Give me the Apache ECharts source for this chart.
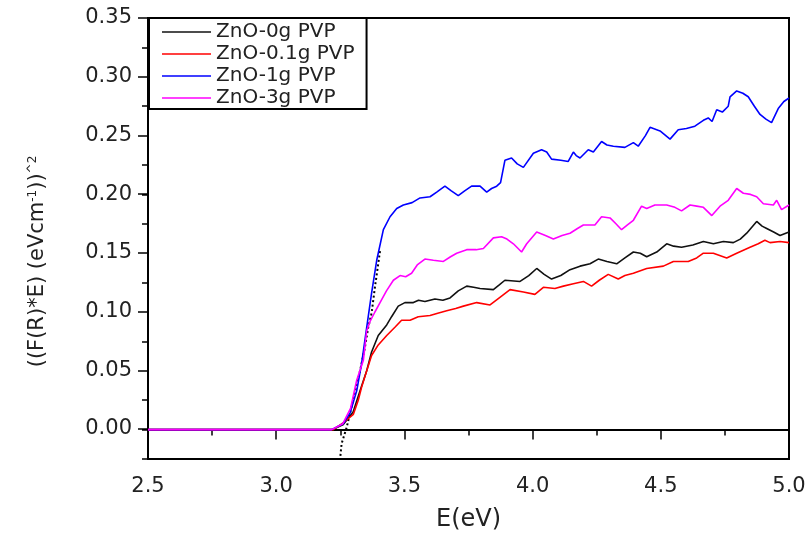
<!DOCTYPE html>
<html>
<head>
<meta charset="utf-8">
<script src="https://cdn.jsdelivr.net/npm/echarts@6/dist/echarts.min.js"></script>
<style>html,body{margin:0;padding:0;background:#fff;}#c{width:805px;height:533px;}</style>
</head>
<body>
<div id="c"></div>
<script>
var seriesNames = ['ZnO-0g PVP', 'ZnO-0.1g PVP', 'ZnO-1g PVP', 'ZnO-3g PVP'];
var xTicks = ['2.5', '3.0', '3.5', '4.0', '4.5', '5.0'];
var yTicks = ['0.00', '0.05', '0.10', '0.15', '0.20', '0.25', '0.30', '0.35'];

var blackE = [2.5,3.22,3.26,3.30,3.327,3.353,3.372,3.398,3.431,3.450,3.476,3.502,3.535,3.555,3.580,3.619,3.650,3.678,3.710,3.743,3.770,3.795,3.847,3.870,3.892,3.951,3.985,4.016,4.045,4.074,4.110,4.146,4.185,4.224,4.256,4.290,4.328,4.360,4.393,4.420,4.445,4.484,4.523,4.550,4.581,4.625,4.666,4.705,4.744,4.783,4.810,4.835,4.874,4.895,4.913,4.940,4.965,5.0];
var blackV = [0,0,0.004,0.015,0.033,0.050,0.066,0.080,0.089,0.096,0.105,0.108,0.108,0.110,0.109,0.111,0.110,0.112,0.118,0.122,0.121,0.120,0.119,0.123,0.127,0.126,0.131,0.137,0.132,0.128,0.131,0.136,0.139,0.141,0.145,0.143,0.141,0.146,0.151,0.150,0.147,0.151,0.158,0.156,0.155,0.157,0.160,0.158,0.160,0.159,0.162,0.167,0.177,0.173,0.171,0.168,0.165,0.168];

var blackDotE = [3.247,3.255,3.275,3.288,3.307,3.327,3.346,3.359,3.372,3.385,3.405];
var blackDotV = [-0.03,-0.012,0.002,0.014,0.031,0.050,0.070,0.087,0.099,0.121,0.152];

var redE = [2.5,3.223,3.262,3.301,3.320,3.333,3.353,3.372,3.398,3.431,3.463,3.489,3.522,3.554,3.600,3.630,3.665,3.700,3.730,3.782,3.834,3.870,3.912,3.964,4.009,4.042,4.087,4.120,4.159,4.198,4.230,4.260,4.295,4.334,4.360,4.393,4.445,4.510,4.549,4.607,4.640,4.666,4.705,4.757,4.796,4.848,4.880,4.906,4.926,4.965,5.0];
var redV = [0,0,0.006,0.013,0.025,0.036,0.050,0.063,0.072,0.080,0.087,0.093,0.093,0.096,0.097,0.099,0.101,0.103,0.105,0.108,0.106,0.112,0.119,0.117,0.115,0.121,0.120,0.122,0.124,0.126,0.122,0.127,0.132,0.128,0.131,0.133,0.137,0.139,0.143,0.143,0.146,0.150,0.150,0.146,0.150,0.155,0.158,0.161,0.159,0.160,0.159];

var blueE = [2.5,3.216,3.261,3.288,3.314,3.333,3.353,3.372,3.392,3.418,3.444,3.470,3.496,3.530,3.561,3.600,3.626,3.658,3.683,3.710,3.735,3.762,3.795,3.821,3.840,3.860,3.875,3.892,3.918,3.940,3.964,4.003,4.035,4.055,4.074,4.110,4.139,4.159,4.170,4.185,4.217,4.237,4.269,4.290,4.315,4.360,4.393,4.412,4.440,4.458,4.497,4.536,4.568,4.600,4.633,4.666,4.685,4.700,4.718,4.740,4.763,4.770,4.796,4.820,4.841,4.865,4.887,4.910,4.932,4.958,4.980,5.0];
var blueV = [0,0,0.005,0.014,0.033,0.056,0.087,0.116,0.144,0.170,0.181,0.188,0.191,0.193,0.197,0.198,0.202,0.207,0.203,0.199,0.203,0.207,0.207,0.202,0.205,0.207,0.210,0.229,0.231,0.226,0.223,0.235,0.238,0.236,0.230,0.229,0.228,0.236,0.233,0.231,0.238,0.236,0.245,0.242,0.241,0.240,0.244,0.241,0.250,0.257,0.254,0.247,0.255,0.256,0.258,0.263,0.265,0.262,0.272,0.270,0.275,0.283,0.288,0.286,0.283,0.275,0.268,0.264,0.261,0.273,0.279,0.282];

var magE = [2.5,3.216,3.26,3.29,3.314,3.340,3.353,3.366,3.385,3.405,3.430,3.457,3.483,3.505,3.528,3.55,3.580,3.613,3.652,3.680,3.704,3.743,3.780,3.808,3.847,3.879,3.900,3.925,3.957,3.977,4.016,4.050,4.081,4.115,4.146,4.175,4.198,4.243,4.269,4.302,4.325,4.347,4.370,4.393,4.425,4.445,4.477,4.523,4.555,4.581,4.614,4.640,4.666,4.699,4.731,4.763,4.796,4.822,4.850,4.874,4.900,4.939,4.952,4.971,5.0];
var magV = [0,0,0.005,0.018,0.042,0.059,0.084,0.092,0.100,0.108,0.118,0.127,0.131,0.130,0.133,0.140,0.145,0.144,0.143,0.147,0.150,0.153,0.153,0.154,0.163,0.164,0.162,0.158,0.151,0.158,0.168,0.165,0.162,0.165,0.167,0.171,0.174,0.174,0.181,0.180,0.175,0.170,0.174,0.178,0.190,0.188,0.191,0.191,0.189,0.186,0.191,0.190,0.189,0.182,0.190,0.195,0.205,0.201,0.200,0.198,0.192,0.191,0.195,0.187,0.191];

function zip(a, b) { return a.map(function (v, i) { return [v, b[i]]; }); }

var FONT = 'DejaVu Sans';
var TXT = '#222';
var chart = echarts.init(document.getElementById('c'), null, {renderer: 'canvas'});

function lineSeries(name, e, v, color) {
  return {
    name: name, type: 'line', xAxisIndex: 0, yAxisIndex: 0,
    data: zip(e, v), symbol: 'none', showSymbol: false, clip: true,
    lineStyle: {color: color, width: 1.6}, itemStyle: {color: color}
  };
}

chart.setOption({
  animation: false,
  backgroundColor: '#fff',
  grid: [
    {left: 148, right: 16, top: 18, bottom: 74, containLabel: false, outerBoundsMode: 'none',
     show: true, borderColor: '#000', borderWidth: 2, backgroundColor: 'transparent'},
    {left: 148, right: 16, top: 18, bottom: 104, containLabel: false, outerBoundsMode: 'none', show: false}
  ],
  xAxis: [
    {
      gridIndex: 0, type: 'value', min: 2.5, max: 5.0, interval: 0.5,
      axisLine: {show: true, lineStyle: {color: '#000', width: 2}},
      axisTick: {show: true, inside: false, length: 10, lineStyle: {color: '#000', width: 1.5}},
      minorTick: {show: true, splitNumber: 2, length: 6, lineStyle: {color: '#000', width: 1.5}},
      splitLine: {show: false},
      axisLabel: {margin: 17, fontFamily: FONT, fontSize: 21, color: TXT,
        formatter: function (v) { var s = v.toFixed(1); return xTicks.indexOf(s) >= 0 ? s : ''; }},
      name: 'E(eV)', nameLocation: 'middle', nameGap: 49,
      nameTextStyle: {fontFamily: FONT, fontSize: 24, color: TXT}
    },
    {gridIndex: 1, type: 'value', min: 2.5, max: 5.0, show: false}
  ],
  yAxis: [
    {
      gridIndex: 0, type: 'value', min: -0.025, max: 0.35, interval: 0.025,
      axisLine: {show: true, lineStyle: {color: '#000', width: 2}},
      axisTick: {show: true, inside: false, length: 6, lineStyle: {color: '#000', width: 1.5}},
      splitLine: {show: false},
      axisLabel: {show: false},
      name: '{m|((F(R)*E) (eVcm}{s|-1}{m|))}{s|^2}',
      nameLocation: 'middle', nameGap: 100, nameRotate: 90,
      nameTextStyle: {
        padding: [0, 46, 0, 0],
        rich: {
          m: {fontFamily: FONT, fontSize: 21, color: TXT},
          s: {fontFamily: FONT, fontSize: 12, color: TXT, verticalAlign: 'top', padding: [0, 0, 9, 0]}
        }
      }
    },
    {
      gridIndex: 1, type: 'value', min: 0, max: 0.35, interval: 0.05,
      axisLine: {show: false},
      axisTick: {show: true, inside: false, length: 10, lineStyle: {color: '#000', width: 1.5}},
      splitLine: {show: false},
      axisLabel: {margin: 16, fontFamily: FONT, fontSize: 21, color: TXT,
        formatter: function (v) { var s = v.toFixed(2); return yTicks.indexOf(s) >= 0 ? s : ''; }}
    }
  ],
  legend: {
    data: seriesNames,
    orient: 'vertical', left: 149, top: 18,
    backgroundColor: '#fff', borderColor: '#000', borderWidth: 2,
    padding: [4, 12, 1, 13], itemGap: 2, itemWidth: 49, itemHeight: 14,
    icon: 'path://M0,7 L49,7 L49,8.5 L0,8.5 Z',
    textStyle: {fontFamily: FONT, fontSize: 20, color: TXT}
  },
  series: [
    lineSeries(seriesNames[0], blackE, blackV, '#111'),
    {
      name: 'ZnO-0g PVP dotted', type: 'line', xAxisIndex: 0, yAxisIndex: 0,
      data: zip(blackDotE, blackDotV), symbol: 'none', clip: true,
      lineStyle: {color: '#000', width: 2, type: [2, 2.5]}
    },
    lineSeries(seriesNames[1], redE, redV, '#ff0000'),
    lineSeries(seriesNames[2], blueE, blueV, '#0000ff'),
    lineSeries(seriesNames[3], magE, magV, '#ff00ff')
  ]
});
</script>
</body>
</html>
